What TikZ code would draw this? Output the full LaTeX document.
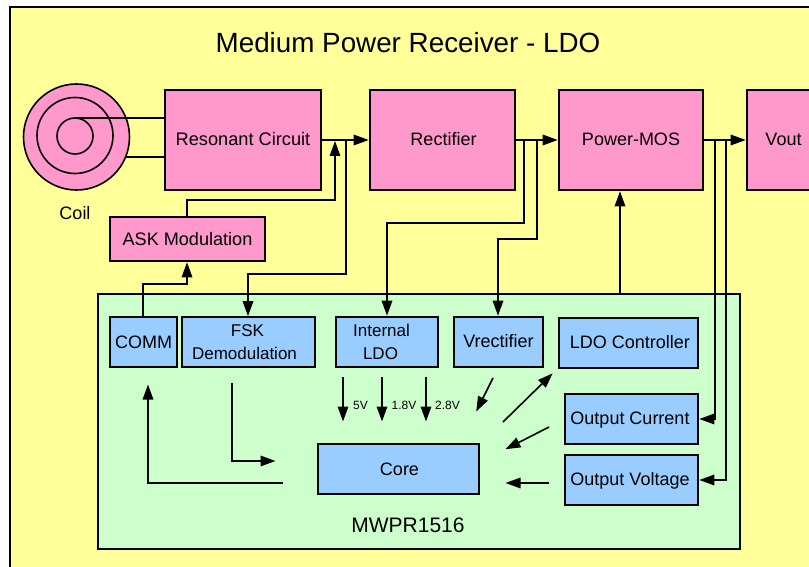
\documentclass[tikz,border=0pt]{standalone}
\usepackage{fontspec}
\setmainfont{Liberation Sans}
\usetikzlibrary{arrows.meta,calc}
\definecolor{bgy}{HTML}{FFFF99}
\definecolor{pinkb}{HTML}{FF99CC}
\definecolor{greenb}{HTML}{CCFFCC}
\definecolor{blueb}{HTML}{99CCFF}
\newcommand{\fs}[1]{\fontsize{#1}{#1}\selectfont}
\newcommand{\rb}[2]{\raisebox{#1}[\height][\depth]{#2}}
\tikzset{
  box/.style={draw=black,line width=1.6pt,inner sep=0pt,align=center,font=\fs{18}},
  pinkbox/.style={box,fill=pinkb},
  bluebox/.style={box,fill=blueb},
  wire/.style={draw=black,line width=1.6pt},
  arr/.style={wire,-{Triangle[length=15pt,width=10.5pt]},shorten >=0.5pt},
  plain/.style={inner sep=0pt,font=\fs{18}},
  small/.style={inner sep=0pt,font=\fs{12}},
  coilring/.style={draw=black,line width=1.6pt,circle,inner sep=0pt},
}
\newcommand{\bx}[6]{\node[#1,minimum width={#5-#3},minimum height={#6-#4}] (#2) at ({(#3+#5)/2},{-(#4+#6)/2})}
\begin{document}
\begin{tikzpicture}[x=1pt,y=1pt]
\useasboundingbox (0,0) rectangle (809,-567);
\begin{scope}
\clip (0,0) rectangle (809,-567);
\fill[white] (0,0) rectangle (809,-567);
\draw[fill=bgy,line width=1.6pt] (10,-7) rectangle (830,-590);
\node[plain,font=\fs{27.8}] (title) at (408,-43) {Medium Power Receiver - LDO};

\node[coilring,fill=pinkb,minimum size=106pt] (c1) at (76.5,-137) {};
\node[coilring,minimum size=76pt] (c2) at (75,-135.5) {};
\node[coilring,minimum size=36pt] (c3) at (75,-136) {};
\node[plain] (coil) at (75,-213) {Coil};

\bx{pinkbox}{res}{165}{90}{321}{190} {\rb{1pt}{\fs{18.2}Resonant Circuit}};
\bx{pinkbox}{rec}{370}{90}{515}{190} {\hspace*{2pt}\rb{1pt}{Rectifier}};
\bx{pinkbox}{mos}{559}{90}{703}{190} {\rb{1pt}{Power-MOS}};
\bx{pinkbox}{vout}{747}{90}{860}{190} {\hspace*{-40pt}\rb{1pt}{Vout}};
\bx{pinkbox}{ask}{110}{217}{265}{261} {\fs{18.1}ASK Modulation};

\draw[line width=1.6pt,fill=greenb] (98,-294) rectangle (740,-549);
\node[plain,font=\fs{21}] (mwpr) at (408,-525) {MWPR1516};

\bx{bluebox}{comm}{110}{317}{177}{367} {COMM};
\bx{bluebox}{fsk}{182}{317}{315}{367} {\fs{17}\hspace*{-2pt}FSK\\[5pt]\fs{17}\hspace*{-8pt}Demodulation};
\bx{bluebox}{ildo}{336}{317}{438}{367} {\fs{17}\hspace*{-11pt}Internal\\[5pt]\fs{17}\hspace*{-13pt}LDO};
\bx{bluebox}{vrec}{454}{317}{543}{367} {\rb{1pt}{Vrectifier}};
\bx{bluebox}{ctrl}{559}{318}{698}{368} {\hspace*{3pt}\rb{1pt}{LDO Controller}};
\bx{bluebox}{ocur}{565}{394}{698}{444} {\hspace*{-3pt}\rb{-1pt}{Output Current}};
\bx{bluebox}{ovol}{565}{455}{698}{505} {\hspace*{-3pt}\rb{-1pt}{Output Voltage}};
\bx{bluebox}{core}{318}{444}{479}{494} {\hspace*{2pt}Core};

% coil leads
\coordinate (ct) at (75,-118);
\coordinate (cb) at (125,-157);
\draw[wire] (ct) -- (ct -| res.west);
\draw[wire] (cb) -- (cb -| res.west);

% main chain
\draw[arr] (res.east) -- (rec.west);
\draw[arr] (rec.east) -- (mos.west);
\draw[arr] (mos.east) -- (mos.east -| vout.west);

% anchor points on the wire grid
\coordinate (askn) at ($(ask.north)+(-0.5,0)$);
\coordinate (asks) at ($(ask.south)+(-0.5,0)$);
\coordinate (commn) at ($(comm.north)+(-0.5,0)$);
\coordinate (fskn) at ($(fsk.north)+(-0.5,0)$);
\coordinate (vrecn) at ($(vrec.north)+(-0.5,0)$);

% ASK to resonant output
\coordinate (askj) at (335,-140.5);
\draw[arr] (askn) -- (askn |- 0,-200) -- (askj |- 0,-200) -- (askj);
% COMM to ASK
\draw[arr] (commn) -- (commn |- 0,-284) -- (asks |- 0,-284) -- (asks);
% resonant output to FSK
\coordinate (j1) at (346,-140);
\draw[wire,-{Triangle[length=15pt,width=10.5pt]}] (j1) -- (346,-274) -- (fskn |- 0,-274) -- (fskn);
% Rectifier branches
\coordinate (j2) at (524,-140);
\coordinate (j3) at (537,-140);
\draw[arr] (j2) -- (524,-223) -- (387,-223) -- (ildo.north);
\draw[arr] (j3) -- (537,-239) -- (vrecn |- 0,-239) -- (vrecn);
% LDO controller to Power-MOS
\coordinate (ctrlt) at (620,-295);
\draw[arr] (ctrlt) -- (ctrlt |- mos.south);
% Vout branches
\coordinate (j4) at (715,-140);
\coordinate (j5) at (726,-140);
\draw[arr] (j4) -- (j4 |- ocur.east) -- (ocur.east);
\draw[arr] (j5) -- (j5 |- ovol.east) -- (ovol.east);

% inner arrows
\coordinate (a1s) at (343,-377); \coordinate (a1e) at (343,-422);
\coordinate (a2s) at (382,-377); \coordinate (a2e) at (382,-422);
\coordinate (a3s) at (426,-377); \coordinate (a3e) at (426,-422);
\draw[arr] (a1s) -- (a1e);
\draw[arr] (a2s) -- (a2e);
\draw[arr] (a3s) -- (a3e);
\node[small] (v5) at (360.5,-405.5) {5V};
\node[small] (v18) at (404,-405.5) {1.8V};
\node[small] (v28) at (447.5,-405.5) {2.8V};

\coordinate (b1s) at (493,-378); \coordinate (b1e) at (476,-412);
\draw[arr] (b1s) -- (b1e);
\coordinate (b2s) at (503,-422); \coordinate (b2e) at (553,-373);
\draw[arr] (b2s) -- (b2e);
\coordinate (b3s) at (549,-427); \coordinate (b3e) at (505,-449.5);
\draw[arr] (b3s) -- (b3e);
\coordinate (b4s) at (549,-483); \coordinate (b4e) at (505,-483);
\draw[arr] (b4s) -- (b4e);

\coordinate (f1) at (232,-383); \coordinate (f2) at (232,-461); \coordinate (f3) at (276,-461);
\draw[arr] (f1) -- (f2) -- (f3);
\coordinate (g1) at (283,-483); \coordinate (g2) at (148,-483); \coordinate (g3) at (148,-384);
\draw[arr] (g1) -- (g2) -- (g3);
\end{scope}
\end{tikzpicture}
\end{document}
